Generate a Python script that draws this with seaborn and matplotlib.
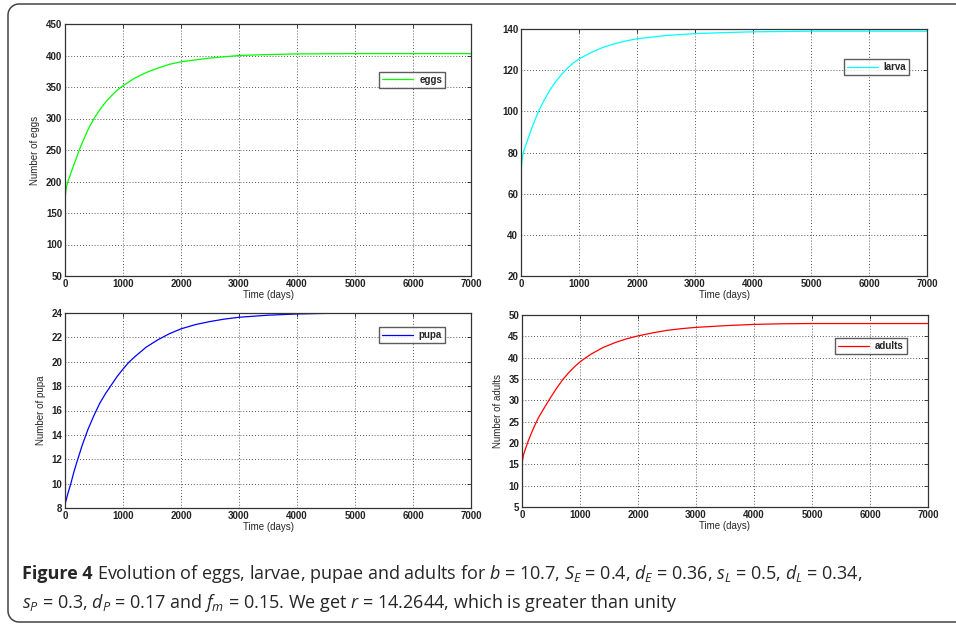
import numpy as np
import pandas as pd
import seaborn as sns
import matplotlib.pyplot as plt
from matplotlib.lines import Line2D

# values (time in days)
t_eggs = [0, 10, 25, 50, 100, 150, 200, 250, 300, 400, 500, 600, 700, 800, 900, 1000, 1100, 1200,
          1400, 1600, 1800, 2000, 2250, 2500, 2750, 3000, 3500, 4000, 5000, 6000, 7000]
eggs = [165, 180, 192, 200, 213, 226, 238, 251, 262, 283, 300, 314, 326, 336, 345, 352, 358, 364,
        373, 380, 386, 390, 393, 396, 398, 400, 401.5, 402.5, 403, 403, 403]

t_larva = [0, 10, 25, 50, 100, 150, 200, 250, 300, 400, 500, 600, 700, 800, 900, 1000, 1200, 1400,
           1600, 1800, 2000, 2500, 3000, 3500, 4000, 5000, 6000, 7000]
larva = [68, 74, 78, 81, 85, 89, 93, 96.5, 100, 105.5, 110.5, 114.5, 118, 121, 123.5, 125.5, 128.5, 131,
         132.8, 134.2, 135.3, 136.9, 137.8, 138.3, 138.7, 139, 139, 139]

t_pupa = [0, 50, 100, 150, 200, 300, 400, 500, 600, 700, 800, 900, 1000, 1100, 1200, 1400, 1600,
          1800, 2000, 2250, 2500, 2750, 3000, 3500, 4000, 4500]
pupa = [8.3, 9.2, 10.0, 10.9, 11.7, 13.2, 14.5, 15.6, 16.6, 17.4, 18.1, 18.8, 19.4, 19.95, 20.4, 21.2, 21.8,
        22.3, 22.7, 23.05, 23.3, 23.5, 23.65, 23.82, 23.92, 23.97]

t_adults = [0, 25, 50, 100, 150, 200, 250, 300, 400, 500, 600, 700, 800, 900, 1000, 1100, 1200, 1400,
            1600, 1800, 2000, 2250, 2500, 2750, 3000, 3500, 4000, 4500, 5000, 6000, 7000]
adults = [15, 17.2, 18.2, 20.2, 21.9, 23.5, 25.0, 26.3, 28.6, 30.8, 32.9, 34.8, 36.4, 37.8, 39.0, 40.0, 40.9, 42.4,
          43.5, 44.4, 45.1, 45.8, 46.4, 46.8, 47.1, 47.5, 47.8, 47.95, 48.0, 48.0, 48.0]

x_ticks = [0, 1000, 2000, 3000, 4000, 5000, 6000, 7000]

sns.set_style("white")
plt.rcParams['font.family'] = ['Liberation Sans', 'DejaVu Sans']
plt.rcParams['mathtext.fontset'] = 'custom'
plt.rcParams['mathtext.rm'] = 'Open Sans'
plt.rcParams['mathtext.it'] = 'Open Sans:italic'

W, H = 956, 625
fig = plt.figure(figsize=(W / 100, H / 100), dpi=100)

panels = [
    # t, y, label, colour, ylabel, ylim, yticks, axes rect, legend anchor
    (t_eggs, eggs, 'eggs', (0, 1, 0), 'Number of eggs', (50, 450), range(50, 451, 50),
     [0.068, 0.5584, 0.4247, 0.4032], (0.936, 0.81)),
    (t_larva, larva, 'larva', (0, 1, 1), None, (20, 140), range(20, 141, 20),
     [0.545, 0.5584, 0.4247, 0.395], (0.956, 0.879)),
    (t_pupa, pupa, 'pupa', (0, 0, 1), 'Number of pupa', (8, 24), range(8, 25, 2),
     [0.068, 0.1872, 0.4247, 0.312], (0.936, 0.928)),
    (t_adults, adults, 'adults', (1, 0, 0), 'Number of adults', (5, 50), range(5, 51, 5),
     [0.546, 0.1888, 0.4247, 0.3072], (0.948, 0.88)),
]

for t, y, name, col, ylab, ylim, yticks, rect, anchor in panels:
    ax = fig.add_axes(rect)
    df = pd.DataFrame({'t': t, 'v': y})
    sns.lineplot(data=df, x='t', y='v', ax=ax, color=col, linewidth=0.9, label=name)
    ax.set_xlim(0, 7000)
    ax.set_ylim(*ylim)
    ax.set_xticks(x_ticks)
    ax.set_yticks(list(yticks))
    ax.grid(True, color='#222222', linestyle=(0, (1, 2.5)), linewidth=0.6)
    ax.tick_params(direction='in', length=3, width=0.6, top=True, right=True,
                   labelsize=7, pad=2, colors='#222222')
    for lab in ax.get_xticklabels() + ax.get_yticklabels():
        lab.set_fontweight('bold')
    for s in ax.spines.values():
        s.set_color('#333333')
        s.set_linewidth(0.9)
    ax.set_xlabel('Time (days)', fontsize=7, labelpad=1)
    ax.set_ylabel(ylab if ylab else '', fontsize=7, labelpad=4)
    leg = ax.legend(loc='upper right', bbox_to_anchor=anchor, fontsize=7,
                    frameon=True, fancybox=False, handlelength=3.2,
                    borderpad=0.3, handletextpad=0.6, borderaxespad=0)
    leg.get_frame().set_edgecolor('#333333')
    leg.get_frame().set_linewidth(1.0)
    for txt in leg.get_texts():
        txt.set_fontweight('bold')

# rounded frame: top, left and bottom sides, open to the right (drawn as one open line)
r = 11
a1 = np.linspace(np.pi / 2, np.pi, 12)
a2 = np.linspace(np.pi, 1.5 * np.pi, 12)
fx = np.concatenate([[W + 5], 8 + r + r * np.cos(a1), 8 + r + r * np.cos(a2), [W + 5]])
fy = np.concatenate([[4], 4 + r - r * np.sin(a1), 622 - r - r * np.sin(a2), [622]])
fig.add_artist(Line2D(fx / W, 1 - fy / H, transform=fig.transFigure,
                      color='#444444', linewidth=1.1))

cap_font = ['Open Sans', 'DejaVu Sans']
fs = 13
fig.text(22 / W, 1 - 574 / H, 'Figure 4', fontsize=fs, fontweight='bold',
         family=cap_font, va='center', ha='left')
fig.text(97 / W, 1 - 574 / H,
         r'Evolution of eggs, larvae, pupae and adults for $b$ = 10.7, $S_E$ = 0.4, '
         r'$d_E$ = 0.36, $s_L$ = 0.5, $d_L$ = 0.34,',
         fontsize=fs, family=cap_font, va='center', ha='left')
fig.text(22 / W, 1 - 603 / H,
         r'$s_P$ = 0.3, $d_P$ = 0.17 and $f_m$ = 0.15. We get $r$ = 14.2644, which is greater than unity',
         fontsize=fs, family=cap_font, va='center', ha='left')

fig.savefig('out.png', dpi=100)
